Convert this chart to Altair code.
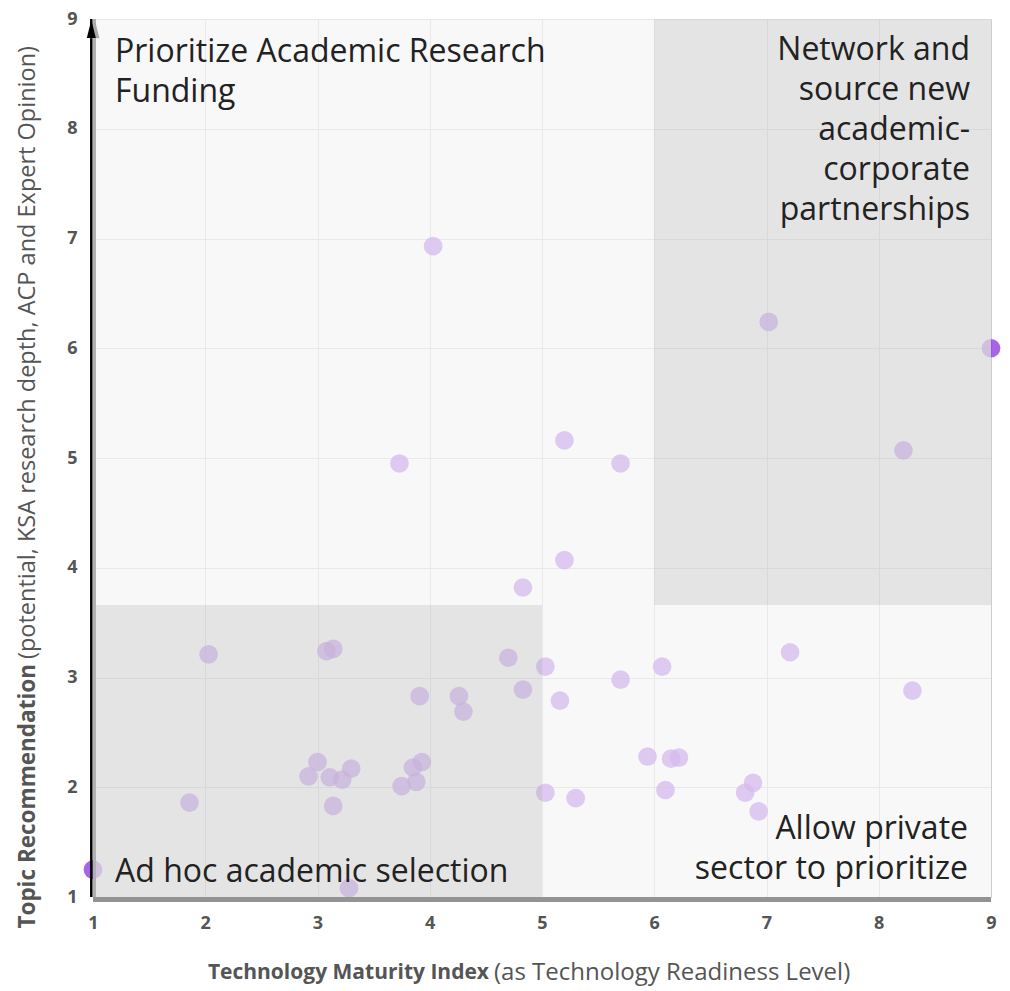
import altair as alt
import pandas as pd

# ---- data ----
trl = [1.00, 9.00, 4.03, 7.02, 8.22, 3.73, 5.20, 5.70, 5.20, 4.83,
       2.03, 3.08, 3.14, 4.70, 5.03, 6.07, 7.21, 8.30, 5.70, 4.83,
       5.16, 3.91, 4.26, 4.30, 1.86, 3.00, 2.92, 3.11, 3.22, 3.30,
       3.14, 3.75, 3.88, 3.85, 3.93, 3.28, 5.03, 5.30, 5.94, 6.15,
       6.22, 6.10, 6.88, 6.81, 6.93]
rec = [1.25, 6.00, 6.93, 6.24, 5.07, 4.95, 5.16, 4.95, 4.07, 3.82,
       3.21, 3.24, 3.26, 3.18, 3.10, 3.10, 3.23, 2.88, 2.98, 2.89,
       2.79, 2.83, 2.83, 2.69, 1.86, 2.23, 2.10, 2.09, 2.07, 2.17,
       1.83, 2.01, 2.05, 2.18, 2.23, 1.08, 1.95, 1.90, 2.28, 2.26,
       2.27, 1.975, 2.04, 1.95, 1.78]

tick_values = [1, 2, 3, 4, 5, 6, 7, 8, 9]
axis_min, axis_max = 1, 9

zone_x1 = [1, 6]
zone_x2 = [5, 9]
zone_y1 = [1, 3.66]
zone_y2 = [3.66, 9]

quadrant_labels = [
    "Prioritize Academic Research\nFunding",
    "Network and\nsource new\nacademic-\ncorporate\npartnerships",
    "Allow private\nsector to prioritize",
    "Ad hoc academic selection",
]
x_title_bold = "Technology Maturity Index"
x_title_rest = "(as Technology Readiness Level)"
y_title_bold = "Topic Recommendation"
y_title_rest = "(potential, KSA research depth, ACP and Expert Opinion)"

FONT = "Open Sans"

points_df = pd.DataFrame({"x": trl, "y": rec})
zones_df = pd.DataFrame({"x": zone_x1, "x2": zone_x2, "y": zone_y1, "y2": zone_y2})
frame_df = pd.DataFrame({"x": [axis_min], "x2": [axis_max], "y": [axis_min], "y2": [axis_max]})

xs = alt.Scale(domain=[axis_min, axis_max], nice=False, zero=False)
ys = alt.Scale(domain=[axis_min, axis_max], nice=False, zero=False)

common_axis = dict(title=None, values=tick_values, grid=True, gridColor="#cdcdcd",
                   gridWidth=1, domain=False, ticks=False, tickSize=0,
                   labelFont=FONT, labelFontSize=18, labelFontWeight="bold",
                   labelColor="#555555", labelFlush=False, labelOverlap=False)
x_axis = alt.Axis(labelPadding=17, **common_axis)
y_axis = alt.Axis(labelPadding=16, **common_axis)

X = lambda: alt.X("x:Q", scale=xs, axis=x_axis)
Y = lambda: alt.Y("y:Q", scale=ys, axis=y_axis)

pts = alt.Chart(points_df).mark_circle(size=350, color="#8b30de", opacity=0.75).encode(
    x=X(), y=Y()
)

overlay = alt.Chart(frame_df).mark_rect(fill="#f5f5f5", opacity=0.7).encode(
    x=X(), x2="x2:Q", y=Y(), y2="y2:Q"
)

zones = alt.Chart(zones_df).mark_rect(fill="#9a9a9a", opacity=0.21).encode(
    x=X(), x2="x2:Q", y=Y(), y2="y2:Q"
)

left_shadow = alt.Chart(frame_df).mark_rule(color="#b0b0b0", strokeWidth=3, xOffset=1.5).encode(
    x=X(), y=Y(), y2="y2:Q"
)
left_axis = alt.Chart(frame_df).mark_rule(color="#000000", strokeWidth=2.5, xOffset=-1.7).encode(
    x=X(), y=Y(), y2="y2:Q"
)
bottom_axis = alt.Chart(frame_df).mark_rule(color="#939393", strokeWidth=5, yOffset=2.5).encode(
    x=X(), x2="x2:Q", y=Y()
)

arrow_shape = "M0,-1L0.5,1L-0.5,1Z"
arrow_shadow = alt.Chart(frame_df).mark_point(
    shape=arrow_shape, filled=True, color="#aaaaaa", opacity=1, size=340,
    xOffset=1.8, yOffset=10
).encode(x=X(), y=alt.Y("y2:Q", scale=ys, axis=y_axis))
arrow = alt.Chart(frame_df).mark_point(
    shape=arrow_shape, filled=True, color="#000000", opacity=1, size=324,
    xOffset=-1.7, yOffset=10
).encode(x=X(), y=alt.Y("y2:Q", scale=ys, axis=y_axis))

def qtext(label, px, py, align):
    return alt.Chart(pd.DataFrame({"t": [label]})).mark_text(
        font=FONT, fontSize=32, color="#222222", align=align, baseline="alphabetic",
        lineBreak="\n", lineHeight=40
    ).encode(text="t:N", x=alt.value(px), y=alt.value(py))

q1 = qtext(quadrant_labels[0], 22, 43, "left")
q2 = qtext(quadrant_labels[1], 877, 41, "right")
q3 = qtext(quadrant_labels[2], 875, 820, "right")
q4 = qtext(quadrant_labels[3], 22, 863, "left")

def ttext(label, px, py, align, weight, size, angle=0):
    return alt.Chart(pd.DataFrame({"t": [label]})).mark_text(
        font=FONT, fontSize=size, color="#555555", align=align, baseline="middle",
        fontWeight=weight, angle=angle
    ).encode(text="t:N", x=alt.value(px), y=alt.value(py))

xt1 = ttext(x_title_bold, 396, 954, "right", "bold", 21)
xt2 = ttext(x_title_rest, 401, 954, "left", "normal", 24)
yt1 = ttext(y_title_bold, -65, 645, "right", "bold", 22.5, 270)
yt2 = ttext(y_title_rest, -65, 640, "left", "normal", 23.5, 270)

chart = alt.layer(
    pts, overlay, zones, left_shadow, bottom_axis, left_axis, arrow_shadow, arrow,
    q1, q2, q3, q4, xt1, xt2, yt1, yt2
).properties(
    width=898, height=878,
    autosize=alt.AutoSizeParams(type="none"),
    padding={"left": 85, "top": 11, "right": 10, "bottom": 92},
    background="#ffffff",
).configure_view(stroke=None)

chart.save("out.html", embed_options={"renderer": "svg", "actions": False})
